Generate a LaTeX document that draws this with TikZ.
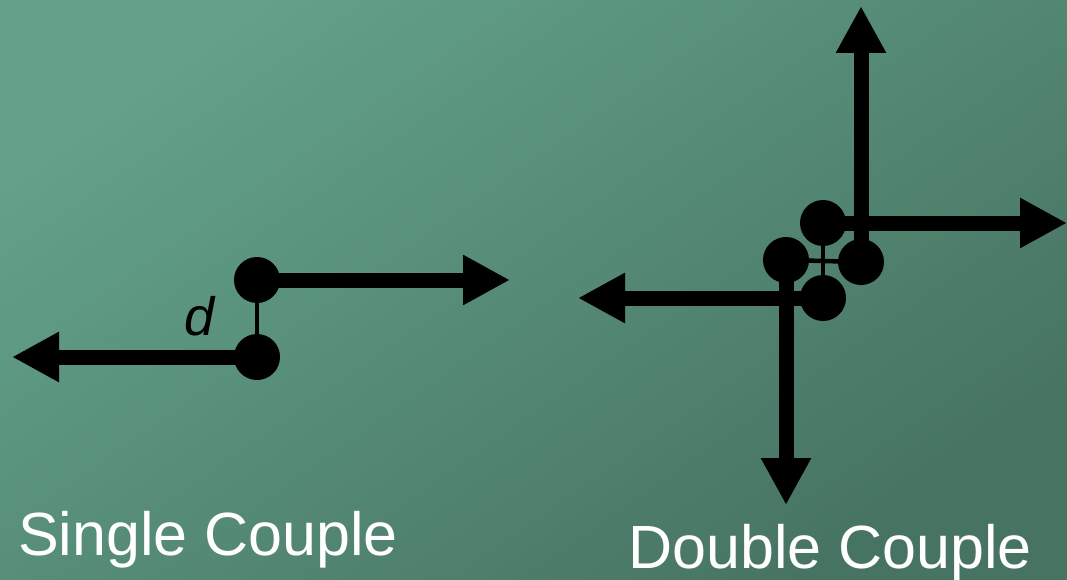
\documentclass[tikz,border=0pt]{standalone}
\usepackage{fontspec}
\setmainfont{Liberation Sans}
\usetikzlibrary{arrows.meta}
\definecolor{bgA}{HTML}{63A189}
\definecolor{bgB}{HTML}{477462}
\begin{document}
\begin{tikzpicture}[x=1pt,y=-1pt,
  ball/.style={circle,fill=black,inner sep=0pt,minimum size=46pt},
  force/.style={line width=15pt,-{Triangle[length=47pt,width=47pt]}},
  link/.style={line width=4.5pt},
  lbl/.style={text=white,font=\fontsize{61}{70}\selectfont,inner sep=0pt,anchor=base west}]
\useasboundingbox (0,0) rectangle (1067,580);
\shade[top color=bgA,bottom color=bgB,shading angle=35] (0,0) rectangle (1067,580);
% single couple
\coordinate (stipR) at (510,280);
\coordinate (stipL) at (12,357);
\node[ball] (sa) at (257,280) {};
\node[ball] (sb) at (257,357) {};
\draw[link] (sa.center) -- (sb.center);
\draw[force] (sa.center) -- (stipR);
\draw[force] (sb.center) -- (stipL);
\node[inner sep=0pt,anchor=base,font=\fontsize{54}{60}\selectfont\itshape] (dl1) at (200,335) {d};
% double couple
\coordinate (dup) at (861,6);
\coordinate (dright) at (1067,223);
\coordinate (dleft) at (578,298);
\coordinate (ddown) at (786,505);
\node[ball] (dt) at (823,223) {};
\node[ball] (dl) at (786,260) {};
\node[ball] (dr) at (861,262) {};
\node[ball] (db) at (823,298) {};
\draw[link] (dt.center) -- (db.center);
\draw[link] (dl.center) -- (dr.center);
\draw[force] (dr.center) -- (dup);
\draw[force] (dt.center) -- (dright);
\draw[force] (db.center) -- (dleft);
\draw[force] (dl.center) -- (ddown);
% labels
\node[lbl] (t1) at (18,555) {Single Couple};
\node[lbl] (t2) at (628,568) {Double Couple};
\end{tikzpicture}
\end{document}
